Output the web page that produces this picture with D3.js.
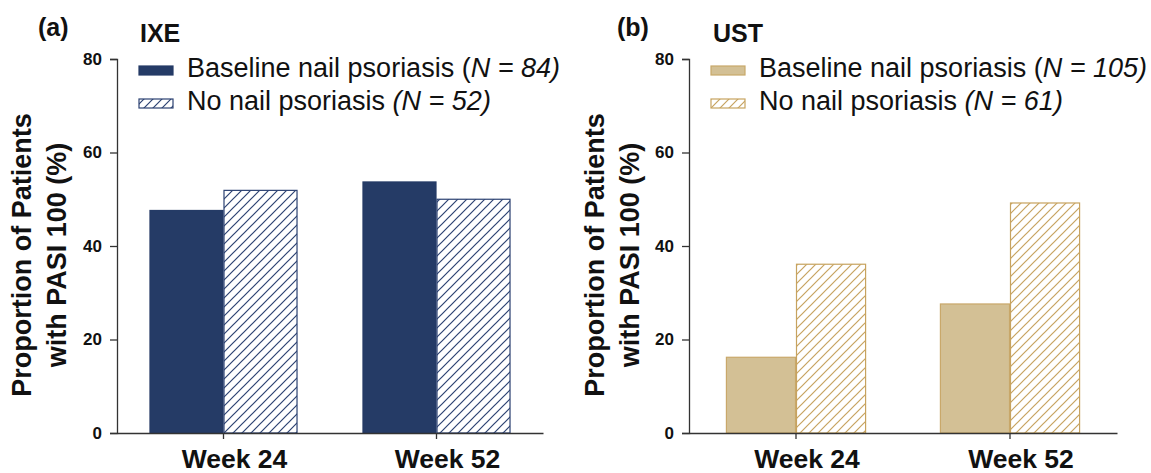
<!DOCTYPE html>
<html>
<head>
<meta charset="utf-8">
<script src="https://cdn.jsdelivr.net/npm/d3@7"></script>
<style>
  html, body { margin: 0; padding: 0; background: #fff; }
  svg { display: block; font-family: "Liberation Sans", Arial, sans-serif; }
</style>
</head>
<body>
<svg id="chart" width="1151" height="473"></svg>
<script>
// ---- data ----
const categories = ["Week 24", "Week 52"];
const seriesKeys = ["nail", "noNail"];
const ixeNail = [47.6, 53.7];
const ixeNoNail = [51.9, 50.0];
const ustNail = [16.2, 27.6];
const ustNoNail = [36.1, 49.2];
const yTicks = [0, 20, 40, 60, 80];
const ixeLegend = [["Baseline nail psoriasis ", "(", "N = 84)"], ["No nail psoriasis ", "", "(N = 52)"]];
const ustLegend = [["Baseline nail psoriasis ", "(", "N = 105)"], ["No nail psoriasis ", "", "(N = 61)"]];

const svg = d3.select("#chart");
const defs = svg.append("defs");

function hatch(id, color) {
  const p = defs.append("pattern").attr("id", id)
    .attr("patternUnits", "userSpaceOnUse").attr("width", 9).attr("height", 9);
  p.append("rect").attr("width", 9).attr("height", 9).attr("fill", "#fff");
  p.append("path").attr("d", "M-1,10 L10,-1 M-2,2 L2,-2 M7,11 L11,7")
    .attr("stroke", color).attr("stroke-width", 1.2).attr("fill", "none");
}
hatch("hatchNavy", "#2c4272");
hatch("hatchTan", "#c7a35f");

const panels = [
  { tag: "(a)", title: "IXE", left: 117, right: 543, frac: 0.695,
    nail: ixeNail, noNail: ixeNoNail, legend: ixeLegend,
    fill: "#253b66", stroke: "#253b66", hatchStroke: "#2c4272", hatchId: "hatchNavy",
    tagX: 38, titleX: 140, labelX: 31 },
  { tag: "(b)", title: "UST", left: 689, right: 1117, frac: 0.655,
    nail: ustNail, noNail: ustNoNail, legend: ustLegend,
    fill: "#d3c095", stroke: "#c9a86a", hatchStroke: "#c7a35f", hatchId: "hatchTan",
    tagX: 617, titleX: 713, labelX: 604 }
];

const plotTop = 59, plotBottom = 433;

panels.forEach(P => {
  const g = svg.append("g");
  const y = d3.scaleLinear().domain([0, 80]).range([plotBottom, plotTop]);
  const x0 = d3.scaleBand().domain(categories).range([P.left, P.right]).padding(0);
  const gw = x0.bandwidth() * P.frac;
  const x1 = d3.scaleBand().domain(seriesKeys).range([0, gw]).padding(0);

  // bars
  categories.forEach((c, i) => {
    const cx = x0(c) + x0.bandwidth() / 2 - gw / 2;
    const vals = { nail: P.nail[i], noNail: P.noNail[i] };
    seriesKeys.forEach(k => {
      g.append("rect")
        .attr("x", cx + x1(k) + 0.5)
        .attr("y", y(vals[k]))
        .attr("width", x1.bandwidth() - 1)
        .attr("height", y(0) - y(vals[k]))
        .attr("fill", k === "nail" ? P.fill : `url(#${P.hatchId})`)
        .attr("stroke", k === "nail" ? P.stroke : P.hatchStroke)
        .attr("stroke-width", 1.2);
    });
  });

  // y axis
  const ya = g.append("g").attr("transform", `translate(${P.left},0)`)
    .call(d3.axisLeft(y).tickValues(yTicks).tickSize(7).tickPadding(8));
  ya.attr("font-size", null).attr("font-family", null);
  ya.select(".domain").attr("stroke", "#333").attr("stroke-width", 1.3);
  ya.selectAll(".tick line").attr("stroke", "#333").attr("stroke-width", 1.3);
  ya.selectAll(".tick text").style("font-size", "17px").style("font-weight", "bold")
    .attr("fill", "#111");

  // x axis
  const xa = g.append("g").attr("transform", `translate(0,${plotBottom})`)
    .call(d3.axisBottom(x0).tickSize(6).tickSizeOuter(0).tickPadding(10));
  xa.attr("font-size", null).attr("font-family", null);
  xa.select(".domain").attr("stroke", "#333").attr("stroke-width", 1.3);
  xa.selectAll(".tick line").attr("stroke", "#333").attr("stroke-width", 1.3);
  xa.selectAll(".tick text").style("font-size", "26.5px").style("font-weight", "bold")
    .attr("fill", "#111").attr("dx", 11).attr("dy", "0.71em");

  // y label
  const lab = g.append("text")
    .attr("transform", `translate(${P.labelX},255) rotate(-90)`)
    .attr("text-anchor", "middle").style("font-size", "27px").style("font-weight", "bold").attr("fill", "#111");
  lab.append("tspan").attr("x", 0).attr("y", 0).text("Proportion of Patients");
  lab.append("tspan").attr("x", 0).attr("y", 35).text("with PASI 100 (%)");

  // tag and title
  g.append("text").attr("x", P.tagX).attr("y", 36).style("font-size", "25px")
    .style("font-weight", "bold").attr("fill", "#111").text(P.tag);
  g.append("text").attr("x", P.titleX).attr("y", 42).style("font-size", "25px")
    .style("font-weight", "bold").attr("fill", "#111").text(P.title);

  // legend
  P.legend.forEach((row, i) => {
    const by = 77 + i * 33;
    g.append("rect").attr("x", P.left + 22).attr("y", by - 11).attr("width", 34).attr("height", 9)
      .attr("fill", i === 0 ? P.fill : `url(#${P.hatchId})`)
      .attr("stroke", i === 0 ? P.stroke : P.hatchStroke).attr("stroke-width", 1.2);
    const t = g.append("text").attr("x", P.left + 70).attr("y", by)
      .style("font-size", "27px").attr("fill", "#111");
    t.append("tspan").text(row[0]);
    if (row[1]) t.append("tspan").text(row[1]);
    t.append("tspan").attr("font-style", "italic").text(row[2]);
  });
});
</script>
</body>
</html>
